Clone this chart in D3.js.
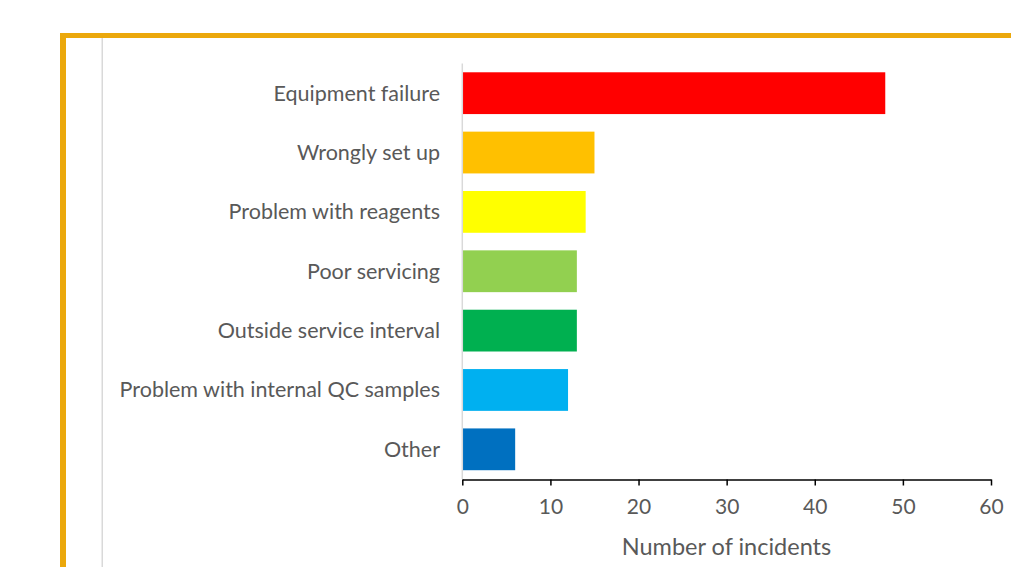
<!DOCTYPE html>
<html>
<head>
<meta charset="utf-8">
<script src="https://cdn.jsdelivr.net/npm/d3@7"></script>
<style>
  html, body { margin: 0; padding: 0; background: #fff; }
  svg { display: block; }
  text { font-family: Lato, "Open Sans", sans-serif; }
</style>
</head>
<body>
<svg id="chart" width="1011" height="567"></svg>
<script>
// Incident causes and counts
const categories = [
  "Equipment failure",
  "Wrongly set up",
  "Problem with reagents",
  "Poor servicing",
  "Outside service interval",
  "Problem with internal QC samples",
  "Other"
];
const incidents = [48, 15, 14, 13, 13, 12, 6];
const barColors = ["#FF0000", "#FFC000", "#FFFF00", "#92D050", "#00B050", "#00B0F0", "#0070C0"];
const xTicks = [0, 10, 20, 30, 40, 50, 60];
const xTitle = "Number of incidents";

const svg = d3.select("#chart");

// Slide frame: orange border along top and left, plus a faint guide line
svg.append("rect").attr("x", 60).attr("y", 33).attr("width", 951).attr("height", 5).attr("fill", "#EBA80C");
svg.append("rect").attr("x", 60).attr("y", 33).attr("width", 6).attr("height", 534).attr("fill", "#EBA80C");
svg.append("rect").attr("x", 101.5).attr("y", 38).attr("width", 1.5).attr("height", 529).attr("fill", "#D9D9D9");

const x = d3.scaleLinear().domain([0, 60]).range([462.3, 991]);
const y = d3.scaleBand().domain(categories).range([63.5, 479]).paddingInner(0.296).paddingOuter(0.148);

// Bars
svg.append("g").selectAll("rect")
  .data(categories)
  .join("rect")
  .attr("x", x(0))
  .attr("y", d => y(d))
  .attr("width", (d, i) => x(incidents[i]) - x(0))
  .attr("height", y.bandwidth())
  .attr("fill", (d, i) => barColors[i]);

// Vertical category axis line
svg.append("line")
  .attr("x1", x(0)).attr("x2", x(0))
  .attr("y1", 63.5).attr("y2", 479)
  .attr("stroke", "#D9D9D9").attr("stroke-width", 1.5);

// Category labels
svg.append("g").selectAll("text")
  .data(categories)
  .join("text")
  .attr("x", 440)
  .attr("y", d => y(d) + y.bandwidth() / 2)
  .attr("dy", "0.35em")
  .attr("text-anchor", "end")
  .attr("fill", "#595959")
  .attr("font-size", 21.5)
  .text(d => d);

// Value axis
const xAxis = d3.axisBottom(x).tickValues(xTicks).tickSize(6).tickPadding(14).tickSizeOuter(0);
const gx = svg.append("g").attr("transform", "translate(0,479.5)").call(xAxis);
gx.select(".domain").attr("stroke", "#000").attr("stroke-width", 1.5);
gx.selectAll(".tick line").attr("stroke", "#000").attr("stroke-width", 1.5);
gx.selectAll(".tick text")
  .attr("fill", "#595959")
  .attr("font-size", 21)
  .style("font-family", "Lato, 'Open Sans', sans-serif");

// Axis title
svg.append("text")
  .attr("x", 726.5)
  .attr("y", 547)
  .attr("dy", "0.35em")
  .attr("text-anchor", "middle")
  .attr("fill", "#595959")
  .attr("font-size", 23.5)
  .text(xTitle);
</script>
</body>
</html>
